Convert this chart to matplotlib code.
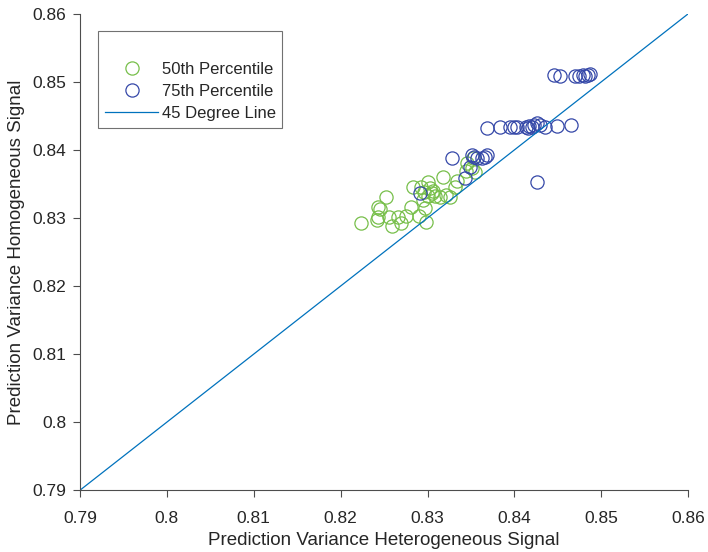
import matplotlib

matplotlib.use("Agg")

import matplotlib.pyplot as plt
from matplotlib.lines import Line2D

plt.rcParams["font.family"] = ["Liberation Sans", "DejaVu Sans"]

# 50th percentile: (heterogeneous, homogeneous)
p50_x = [0.82232, 0.82416, 0.82431, 0.82427, 0.82454, 0.82519, 0.82589, 0.82557,
         0.82661, 0.82692, 0.82753, 0.82811, 0.82830, 0.82906, 0.82922, 0.82983,
         0.82972, 0.82945, 0.83010, 0.83010, 0.83049, 0.83087, 0.83183, 0.83145,
         0.83214, 0.83260, 0.83317, 0.83337, 0.83452, 0.83444, 0.83510, 0.83548,
         0.83521, 0.83030, 0.83060, 0.82960]
p50_y = [0.82922, 0.82971, 0.83015, 0.83166, 0.83132, 0.83304, 0.82882, 0.83019,
         0.83015, 0.82926, 0.83029, 0.83166, 0.83460, 0.83029, 0.83460, 0.82946,
         0.83143, 0.83265, 0.83534, 0.83324, 0.83363, 0.83324, 0.83607, 0.83313,
         0.83338, 0.83313, 0.83460, 0.83549, 0.83813, 0.83696, 0.83731, 0.83681,
         0.83878, 0.83440, 0.83400, 0.83380]

# 75th percentile
p75_x = [0.82914, 0.83286, 0.83432, 0.83490, 0.83510, 0.83567, 0.83625, 0.83663,
         0.83682, 0.83540, 0.84258,
         0.83689, 0.83835, 0.83950, 0.83997, 0.84035, 0.84135, 0.84173, 0.84200,
         0.84258, 0.84296, 0.84354, 0.84488, 0.84653, 0.84220, 0.84160,
         0.84461, 0.84520, 0.84699, 0.84748, 0.84787, 0.84818, 0.84852, 0.84872]
p75_y = [0.83372, 0.83878, 0.83584, 0.83754, 0.83926, 0.83878, 0.83878, 0.83902,
         0.83926, 0.83900, 0.83534,
         0.84320, 0.84340, 0.84340, 0.84330, 0.84340, 0.84340, 0.84350, 0.84330,
         0.84393, 0.84360, 0.84340, 0.84350, 0.84360, 0.84370, 0.84320,
         0.85100, 0.85090, 0.85080, 0.85090, 0.85100, 0.85080, 0.85100, 0.85110]

diag = [0.79, 0.86]
ticks = [0.79, 0.80, 0.81, 0.82, 0.83, 0.84, 0.85, 0.86]
tick_labels = ["0.79", "0.8", "0.81", "0.82", "0.83", "0.84", "0.85", "0.86"]

GREEN = "#77BF4A"
BLUE = "#3548A8"
LINE = "#0072BD"
TEXT = "#262626"

fig = plt.figure(figsize=(7.08, 5.52), dpi=100)
ax = fig.add_axes([0.113, 0.112, 0.859, 0.863])

ax.plot(p50_x, p50_y, "o", mfc="none", mec=GREEN, ms=9.5, mew=0.9)
ax.plot(p75_x, p75_y, "o", mfc="none", mec=BLUE, ms=9.5, mew=0.9)
ax.plot(diag, diag, color=LINE, lw=0.9)

ax.set_xlim(0.79, 0.86)
ax.set_ylim(0.79, 0.86)
ax.set_xticks(ticks)
ax.set_xticklabels(tick_labels)
ax.set_yticks(ticks)
ax.set_yticklabels(tick_labels)
for side in ("top", "right"):
    ax.spines[side].set_visible(False)
for side in ("left", "bottom"):
    ax.spines[side].set_color("#4d4d4d")
    ax.spines[side].set_linewidth(0.8)
ax.tick_params(direction="out", length=5, width=0.8, color="#4d4d4d",
               labelcolor=TEXT, labelsize=12.5)
ax.tick_params(axis="x", pad=10)
ax.tick_params(axis="y", pad=5)
ax.set_xlabel("Prediction Variance Heterogeneous Signal", fontsize=13.5,
              color=TEXT, labelpad=4)
ax.set_ylabel("Prediction Variance Homogeneous Signal", fontsize=13.5,
              color=TEXT, labelpad=5)

handles = [
    Line2D([], [], ls="none", marker="o", mfc="none", mec=GREEN, ms=9.5, mew=0.9),
    Line2D([], [], ls="none", marker="o", mfc="none", mec=BLUE, ms=9.5, mew=0.9),
    Line2D([], [], color=LINE, lw=0.9),
]
leg = ax.legend(handles, ["50th Percentile", "75th Percentile", "45 Degree Line"],
                loc="upper left", bbox_to_anchor=(0.03, 0.963), fontsize=12,
                title=" ", title_fontsize=13, frameon=True, fancybox=False,
                handlelength=3.2, handletextpad=0.2, labelspacing=0.42,
                borderpad=0.4, borderaxespad=0)
leg.get_frame().set_edgecolor("#4d4d4d")
leg.get_frame().set_linewidth(0.8)
for t in leg.get_texts():
    t.set_color(TEXT)

fig.savefig("out.png", dpi=100, facecolor="white")
